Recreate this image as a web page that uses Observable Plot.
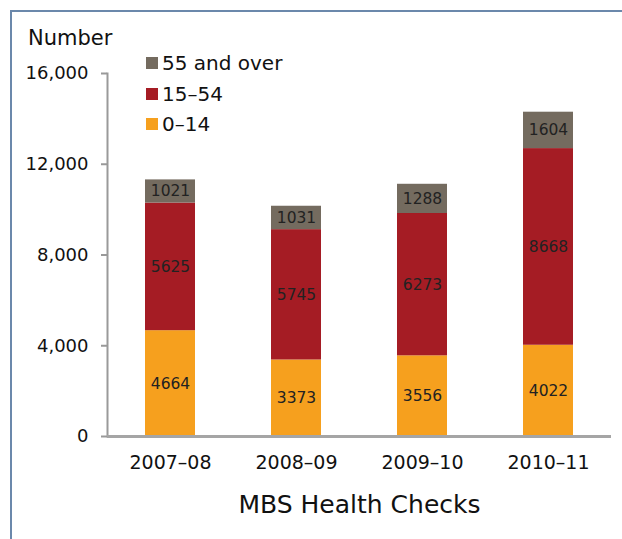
<!DOCTYPE html>
<html><head><meta charset="utf-8">
<script src="https://cdn.jsdelivr.net/npm/d3@7"></script>
<script src="https://cdn.jsdelivr.net/npm/@observablehq/plot@0.6"></script>
<style>
body{margin:0;background:#fff;font-family:"DejaVu Sans",sans-serif;overflow:hidden;}
#wrap{position:relative;width:622px;height:539px;overflow:hidden;background:#fff;}
#border{position:absolute;left:10px;top:10px;width:700px;height:600px;border-top:2px solid #6b88ab;border-left:2px solid #6b88ab;}
#chart{position:absolute;left:0;top:0;}
#ylabel{position:absolute;left:28px;top:26px;font-size:21px;color:#111;line-height:24px;}
#legend{position:absolute;left:146px;top:0;}
.row{position:absolute;left:0;white-space:nowrap;font-size:20px;line-height:24px;color:#111;height:24px;}
.sw{display:inline-block;width:12px;height:12px;margin-right:4px;vertical-align:middle;position:relative;top:-2px;}
</style></head><body>
<div id="wrap"><div id="border"></div><div id="chart"></div><div id="ylabel"></div><div id="legend"></div></div>
<script>
const years = ["2007–08", "2008–09", "2009–10", "2010–11"];
const groups = ["0–14", "15–54", "55 and over"];
const age0to14 = [4664, 3373, 3556, 4022];
const age15to54 = [5625, 5745, 6273, 8668];
const age55plus = [1021, 1031, 1288, 1604];
const colors = ["#f6a01e", "#a51c24", "#746b5f"];
const yTicks = [0, 4000, 8000, 12000, 16000];
const xTitle = "MBS Health Checks";
const yTitle = "Number";
const legendOrder = ["55 and over", "15–54", "0–14"];

const series = [age0to14, age15to54, age55plus];
const data = years.flatMap((yr, i) => groups.map((g, j) => ({year: yr, group: g, value: series[j][i]})));

const chart = Plot.plot({
  width: 622, height: 539,
  marginLeft: 107, marginRight: 11, marginTop: 73, marginBottom: 103,
  style: {fontFamily: "DejaVu Sans", fontSize: "18px", color: "#111", background: "transparent", overflow: "visible"},
  x: {domain: years, paddingInner: 0.6, paddingOuter: 0.3, label: null},
  y: {domain: [0, 16000], label: null},
  color: {domain: groups, range: colors},
  marks: [
    Plot.barY(data, {x: "year", y: "value", fill: "group", order: groups}),
    Plot.text(data, Plot.stackY({x: "year", y: "value", z: "group", order: groups, text: d => String(d.value), fontSize: 15.5, fill: "#222"})),
    Plot.axisY({ticks: yTicks, tickFormat: d3.format(","), tickSize: 6, tickPadding: 13, stroke: "#999", strokeWidth: 2, fontSize: 18, label: null, fill: "#111"}),
    Plot.axisX({tickSize: 0, tickPadding: 19, fontSize: 19, label: null, fill: "#111"}),
    Plot.frame({anchor: "left", stroke: "#9a9a9a", strokeWidth: 2}),
    Plot.ruleY([0], {stroke: "#a5a5a5", strokeWidth: 3}),
    Plot.text([xTitle], {frameAnchor: "bottom", dy: 76, fontSize: 25, fill: "#111"})
  ]
});
document.getElementById("chart").appendChild(chart);
document.getElementById("ylabel").textContent = yTitle;

const legend = document.getElementById("legend");
const rowTops = [51, 82, 112];
legendOrder.forEach((g, k) => {
  const row = document.createElement("div");
  row.className = "row";
  row.style.top = rowTops[k] + "px";
  const sw = document.createElement("span");
  sw.className = "sw";
  sw.style.background = colors[groups.indexOf(g)];
  row.appendChild(sw);
  row.appendChild(document.createTextNode(g));
  legend.appendChild(row);
});
</script>
</body></html>
